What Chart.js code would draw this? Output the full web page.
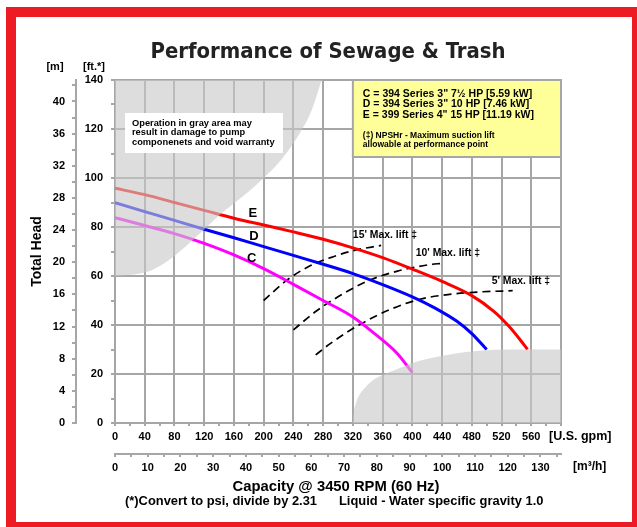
<!DOCTYPE html>
<html>
<head>
<meta charset="utf-8">
<script src="https://cdn.jsdelivr.net/npm/chart.js@4.4.1/dist/chart.umd.min.js"></script>
<style>
    html, body { margin: 0; padding: 0; background: #fff; overflow: hidden; }
    #wrap { position: relative; width: 637px; height: 527px; }
    #chart { position: absolute; left: 0; top: 0; }
    #frame { position: absolute; left: 6px; top: 7px; width: 616px; height: 505px; border: 10px solid #ed1c24; pointer-events: none; }
</style>
</head>
<body>
<div id="wrap">
    <canvas id="chart" width="637" height="527"></canvas>
    <div id="frame"></div>
</div>
<script>
const GPM_TO_M3H = 0.22712;
const FT_TO_M = 0.3048;

// Pump curves (flow in U.S. gpm, head in ft)
const eFlow = [0, 40, 80, 120, 160, 200, 240, 280, 320, 360, 400, 440, 480, 510, 530, 545, 555];
const eHead = [95.8, 93.2, 90.0, 86.8, 83.6, 80.8, 78.0, 75.0, 71.5, 67.5, 62.8, 57.8, 52.0, 45.5, 39.5, 34.0, 30.0];

const dFlow = [0, 40, 80, 120, 160, 200, 240, 280, 320, 360, 400, 430, 460, 480, 500];
const dHead = [89.9, 86.3, 82.7, 79.1, 75.6, 72.0, 68.4, 64.8, 61.0, 56.5, 51.5, 47.0, 41.5, 36.5, 30.0];

const cFlow = [0, 40, 80, 120, 160, 200, 240, 280, 320, 350, 380, 400];
const cHead = [83.8, 80.6, 77.3, 73.3, 68.6, 63.0, 56.6, 50.0, 43.3, 36.3, 28.3, 20.5];

// Max. suction lift lines
const lift15Flow = [200, 230, 260, 290, 320, 358];
const lift15Head = [50.0, 58.0, 63.8, 67.5, 70.3, 72.5];
const lift10Flow = [240, 270, 300, 340, 380, 420, 441];
const lift10Head = [38.0, 45.5, 51.5, 58.0, 62.0, 64.5, 65.2];
const lift5Flow = [270, 290, 330, 370, 410, 450, 490, 535];
const lift5Head = [27.8, 32.5, 40.3, 46.3, 50.5, 52.5, 53.5, 54.0];

// Gray (do not operate) areas
const grayTopFlow = [0, 25, 50, 75, 100, 120, 141, 170, 200, 225, 250, 265, 278];
const grayTopHead = [60, 60.6, 62.5, 67, 73.5, 79, 85, 92, 100, 108, 119, 128, 140];
const grayLowFlow = [320, 321, 324, 328, 335, 347, 360, 380, 400, 430, 460, 490, 530, 600];
const grayLowHead = [0, 4, 8, 11, 14, 17.5, 19.6, 22, 24.5, 26.8, 28.5, 29.5, 30, 30];

// Tick labels
const gpmTicks = [0, 40, 80, 120, 160, 200, 240, 280, 320, 360, 400, 440, 480, 520, 560];
const m3hTicks = [0, 10, 20, 30, 40, 50, 60, 70, 80, 90, 100, 110, 120, 130];
const ftTicks = [0, 20, 40, 60, 80, 100, 120, 140];
const mTicks = [0, 4, 8, 12, 16, 20, 24, 28, 32, 36, 40];

const FONT = "'Liberation Sans', Arial, sans-serif";
const GRID = '#a6a6a6';
const GRAY = 'rgba(200, 200, 200, 0.62)';
const NONE = 'rgba(0, 0, 0, 0)';
const tickFont = { family: FONT, size: 11, weight: 'bold' };

const range = (a, b, s) => { const r = []; for (let v = a; v <= b + 1e-9; v += s) r.push(v); return r; };
const toPoints = (xs, ys) => xs.map((x, i) => ({ x, y: ys[i] }));

function curve(label, xs, ys, color) {
    return { label, data: toPoints(xs, ys), borderColor: color, borderWidth: 3, pointRadius: 0,
             cubicInterpolationMode: 'monotone', fill: false, order: 1 };
}
function lift(label, xs, ys) {
    return { label, data: toPoints(xs, ys), borderColor: '#000', borderWidth: 1.7, borderDash: [8, 5],
             pointRadius: 0, cubicInterpolationMode: 'monotone', fill: false, order: 2 };
}
function grayArea(xs, ys, fill) {
    return { label: 'gray', data: toPoints(xs, ys), borderWidth: 0, borderColor: NONE, backgroundColor: GRAY,
             pointRadius: 0, cubicInterpolationMode: 'monotone', fill, order: 0 };
}

function text(ctx, str, x, y, size, align = 'left', family = FONT) {
    ctx.font = `bold ${size}px ${family}`;
    ctx.textAlign = align;
    ctx.textBaseline = 'middle';
    ctx.fillText(str, x, y);
}

// Boxes, titles and labels on top of the plot
const annotations = {
    id: 'annotations',
    afterDraw(chart) {
        const { ctx } = chart;
        const { x, y } = chart.scales;
        ctx.save();
        ctx.fillStyle = '#000';

        // title, fitted to the reference width
        let size = 28;
        const titleFamily = "'Liberation Sans Narrow', 'DejaVu Sans Condensed', " + FONT;
        ctx.font = `bold ${size}px ${titleFamily}`;
        const w = ctx.measureText('Performance of Sewage & Trash').width;
        if (w > 355) size = size * 355 / w;
        ctx.fillStyle = '#222';
        text(ctx, 'Performance of Sewage & Trash', 328, 52, size, 'center', titleFamily);
        ctx.fillStyle = '#000';

        // unit headers
        text(ctx, '[m]', 55, 67, 11, 'center');
        text(ctx, '[ft.*]', 94, 67, 11, 'center');
        text(ctx, '[U.S. gpm]', 549, 437, 12.5);
        text(ctx, '[m³/h]', 573, 467, 12);

        // axis titles
        ctx.save();
        ctx.translate(37, (y.top + y.bottom) / 2);
        ctx.rotate(-Math.PI / 2);
        text(ctx, 'Total Head', 0, 0, 14, 'center');
        ctx.restore();
        text(ctx, 'Capacity @ 3450 RPM (60 Hz)', 336, 487, 14.8, 'center');
        text(ctx, '(*)Convert to psi, divide by 2.31', 125, 501, 12.9);
        text(ctx, 'Liquid - Water specific gravity 1.0', 339, 501, 12.9);

        // warning box
        ctx.fillStyle = '#fff';
        ctx.fillRect(125, 113, 158, 40);
        ctx.fillStyle = '#000';
        text(ctx, 'Operation in gray area may', 132, 123, 9.3);
        text(ctx, 'result in damage to pump', 132, 132.5, 9.3);
        text(ctx, 'componenets and void warranty', 132, 142, 9.3);

        // legend box
        const lx = x.getPixelForValue(320);
        ctx.fillStyle = '#ffff99';
        ctx.fillRect(lx, y.top, x.right - lx, 77);
        ctx.strokeStyle = GRID;
        ctx.lineWidth = 2;
        ctx.strokeRect(lx, y.top, x.right - lx, 77);
        ctx.fillStyle = '#000';
        text(ctx, 'C = 394 Series 3" 7½ HP [5.59 kW]', lx + 10, 94, 10.5);
        text(ctx, 'D = 394 Series 3" 10 HP [7.46 kW]', lx + 10, 104.5, 10.5);
        text(ctx, 'E = 399 Series 4" 15 HP [11.19 kW]', lx + 10, 115.5, 10.5);
        text(ctx, '(‡) NPSHr - Maximum suction lift', lx + 10, 136, 8.5);
        text(ctx, 'allowable at performance point', lx + 10, 145, 8.5);

        // curve labels
        const at = (g, h) => [x.getPixelForValue(g), y.getPixelForValue(h)];
        text(ctx, 'E', ...at(185.5, 85.6), 13, 'center');
        text(ctx, 'D', ...at(186.8, 76.2), 13, 'center');
        text(ctx, 'C', ...at(184, 67.3), 13, 'center');
        text(ctx, "15' Max. lift ‡", ...at(320, 76.7), 10.4);
        text(ctx, "10' Max. lift ‡", ...at(404.6, 69.3), 10.4);
        text(ctx, "5' Max. lift ‡", ...at(506.7, 57.7), 10.4);
        ctx.restore();
    }
};

const ctx = document.getElementById('chart').getContext('2d');
new Chart(ctx, {
    type: 'line',
    data: {
        datasets: [
            grayArea(grayTopFlow, grayTopHead, 'end'),
            grayArea(grayLowFlow, grayLowHead, 'start'),
            curve('E', eFlow, eHead, '#ff0000'),
            curve('D', dFlow, dHead, '#0000ff'),
            curve('C', cFlow, cHead, '#ff00ff'),
            lift("15' Max. lift", lift15Flow, lift15Head),
            lift("10' Max. lift", lift10Flow, lift10Head),
            lift("5' Max. lift", lift5Flow, lift5Head)
        ]
    },
    options: {
        responsive: false,
        devicePixelRatio: 1,
        animation: false,
        layout: { padding: { left: 16, right: 76, top: 80, bottom: 47 } },
        plugins: { legend: { display: false }, title: { display: false }, tooltip: { enabled: false } },
        scales: {
            x: {
                type: 'linear', position: 'bottom', min: 0, max: 600, weight: 0,
                afterBuildTicks: s => { s.ticks = range(0, 600, 20).map(v => ({ value: v })); },
                afterFit: s => { s.height = 31; },
                ticks: { autoSkip: false, maxRotation: 0, padding: 4, color: '#000', font: tickFont,
                         callback: v => gpmTicks.includes(v) ? String(v) : '' },
                grid: { color: c => (c.tick && c.tick.value % 40 === 0) ? GRID : NONE, lineWidth: 2,
                        tickColor: GRID, tickLength: 3 },
                border: { color: GRID, width: 2 }
            },
            x2: {
                type: 'linear', position: 'bottom', min: 0, max: 600 * GPM_TO_M3H, weight: 1,
                afterBuildTicks: s => { s.ticks = range(0, 135, 5).map(v => ({ value: v })); },
                afterFit: s => { s.height = 26; },
                ticks: { autoSkip: false, maxRotation: 0, padding: 4, color: '#000', font: tickFont,
                         callback: v => m3hTicks.includes(v) ? String(v) : '' },
                grid: { drawOnChartArea: false, color: GRID, lineWidth: 2, tickColor: GRID, tickLength: 3 },
                border: { color: GRID, width: 2 }
            },
            y: {
                type: 'linear', position: 'left', min: 0, max: 140, weight: 0,
                afterBuildTicks: s => { s.ticks = range(0, 140, 10).map(v => ({ value: v })); },
                afterFit: s => { s.width = 39; },
                ticks: { autoSkip: false, padding: 8, color: '#000', font: tickFont,
                         callback: v => ftTicks.includes(v) ? String(v) : '' },
                grid: { color: c => (c.tick && c.tick.value % 20 === 0) ? GRID : NONE, lineWidth: 2,
                        tickColor: GRID, tickLength: 4 },
                border: { color: GRID, width: 2 }
            },
            y2: {
                type: 'linear', position: 'left', min: 0, max: 140 * FT_TO_M, weight: 1,
                afterBuildTicks: s => { s.ticks = range(0, 42, 2).map(v => ({ value: v })); },
                afterFit: s => { s.width = 60; },
                ticks: { autoSkip: false, padding: 7, color: '#000', font: tickFont,
                         callback: v => mTicks.includes(v) ? String(v) : '' },
                grid: { drawOnChartArea: false, color: GRID, lineWidth: 2, tickColor: GRID, tickLength: 4 },
                border: { color: GRID, width: 2 }
            }
        }
    },
    plugins: [annotations]
});
</script>
</body>
</html>
